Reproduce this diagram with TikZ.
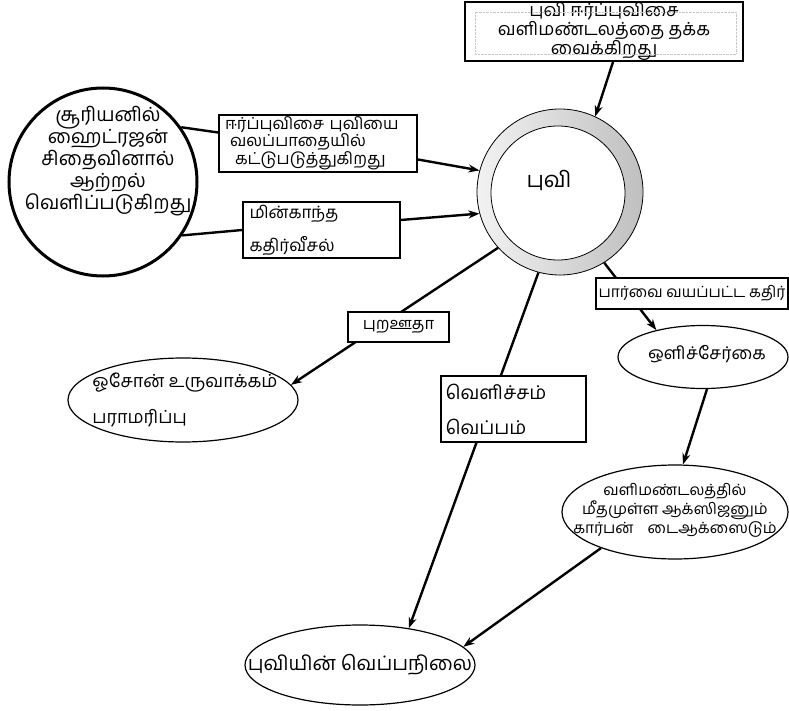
\documentclass[tikz,border=0pt]{standalone}
\usepackage{fontspec}
\newfontfamily\ta[Script=Tamil]{Hind Madurai}
\usetikzlibrary{shapes.geometric,arrows.meta}
\begin{document}
\begin{tikzpicture}[x=1pt,y=-1pt,
  font=\ta\fontsize{15}{17}\selectfont,
  box/.style={draw,line width=1.6pt,fill=white,inner sep=0pt},
  oval/.style={draw,ellipse,line width=1.2pt,fill=white,inner sep=0pt},
  link/.style={line width=2.4pt},
  arr/.style={line width=2.4pt,-{Stealth[length=11pt,width=8pt]}}]
\useasboundingbox (0,0) rectangle (789,711);
\fill[white] (0,0) rectangle (789,711);

% Earth
\node[circle,draw,line width=0.8pt,left color=gray!10,right color=gray!50,minimum size=166pt,inner sep=0pt] (earth) at (560,192) {};
\node[circle,draw,line width=0.8pt,fill=white,minimum size=134pt,inner sep=0pt] (earthin) at (558,193) {};
\node[font=\ta\fontsize{22}{24}\selectfont] (earthtxt) at (549,180) {புவி};

% Sun
\node[circle,draw,line width=3pt,fill=white,minimum size=188pt,inner sep=0pt] (sun) at (103,182) {};
\node[align=center,font=\ta\fontsize{19.5}{22}\selectfont] (suntxt) at (108,161) {சூரியனில்\\ஹைட்ரஜன்\\சிதைவினால்\\ஆற்றல்\\வெளிப்படுகிறது};

% Boxes
\node[box,line width=2pt,minimum width=278pt,minimum height=59pt,align=center,font=\ta\fontsize{18}{16}\selectfont] (top) at (604,31.5) {புவி ஈர்ப்புவிசை\\வளிமண்டலத்தை தக்க\\வைக்கிறது};
\draw[gray!45,line width=0.4pt,densely dotted] ([shift={(11pt,-11pt)}]top.north west) rectangle ([shift={(-8pt,8pt)}]top.south east);
\node[box,line width=2pt,minimum width=198pt,minimum height=57pt,text width=186pt,align=left,font=\ta\fontsize{16.5}{16}\selectfont] (b1) at (318,143.5) {ஈர்ப்புவிசை புவியை\\\hspace*{5pt}வலப்பாதையில்\\\hspace*{10pt}கட்டுபடுத்துகிறது};
\node[box,minimum width=157pt,minimum height=56pt,text width=144pt,align=left,font=\ta\fontsize{17}{33}\selectfont] (b2) at (321.5,230) {மின்காந்த\\கதிர்வீசல்};

% Ellipses
\node[oval,minimum width=230pt,minimum height=84pt,label={[align=left,font=\ta\fontsize{18}{36}\selectfont,xshift=2pt]center:ஓசோன் உருவாக்கம்\\பராமரிப்பு}] (ozone) at (183,400) {};
\node[oval,minimum width=230pt,minimum height=80pt,label={[font=\ta\fontsize{20}{22}\selectfont]center:புவியின் வெப்பநிலை}] (bot) at (360,665) {};
\node[oval,minimum width=170pt,minimum height=63pt,label={[font=\ta\fontsize{17.5}{20}\selectfont,yshift=3pt,xshift=4pt]center:ஒளிச்சேர்கை}] (photo) at (703,357) {};
\node[oval,minimum width=226pt,minimum height=94pt,label={[align=center,font=\ta\fontsize{15.5}{19}\selectfont,yshift=2pt]center:வளிமண்டலத்தில்\\மீதமுள்ள ஆக்ஸிஜனும்\\கார்பன்\hspace{14pt}டைஆக்ஸைடும்}] (atm) at (675,512) {};

% Connectors
\draw[link] (sun.35) -- ([yshift=11pt]b1.west);
\draw[link] (sun.326) -- (b2.west);
\draw[arr] ([yshift=-16pt]b1.east) -- (earth.165);
\draw[arr] ([yshift=10pt]b2.east) -- (earth.195);
\draw[arr] ([xshift=9pt]top.south) -- (earth.65);
\draw[arr] (earth.222) -- (ozone.8);
\draw[arr] (earth.255) -- (bot.37);
\draw[arr] (earth.302) -- (photo.150);
\draw[arr] ([xshift=4pt]photo.south) -- ([xshift=8pt]atm.north);
\draw[arr] (atm.206) -- (bot.10);

% Labels on connectors
\node[box,line width=1.2pt,minimum width=101pt,minimum height=30pt,font=\ta\fontsize{16.5}{18}\selectfont] (uv) at (398.5,327) {புறஊதா};
\node[box,line width=1.2pt,minimum width=145pt,minimum height=66pt,text width=136pt,align=left,font=\ta\fontsize{19}{35}\selectfont] (lh) at (513.5,409) {வெளிச்சம்\\வெப்பம்};
\node[box,line width=1.4pt,minimum width=192pt,minimum height=31pt,font=\ta\fontsize{15.5}{18}\selectfont] (vis) at (692,293.5) {பார்வை வயப்பட்ட கதிர்};
\end{tikzpicture}
\end{document}
